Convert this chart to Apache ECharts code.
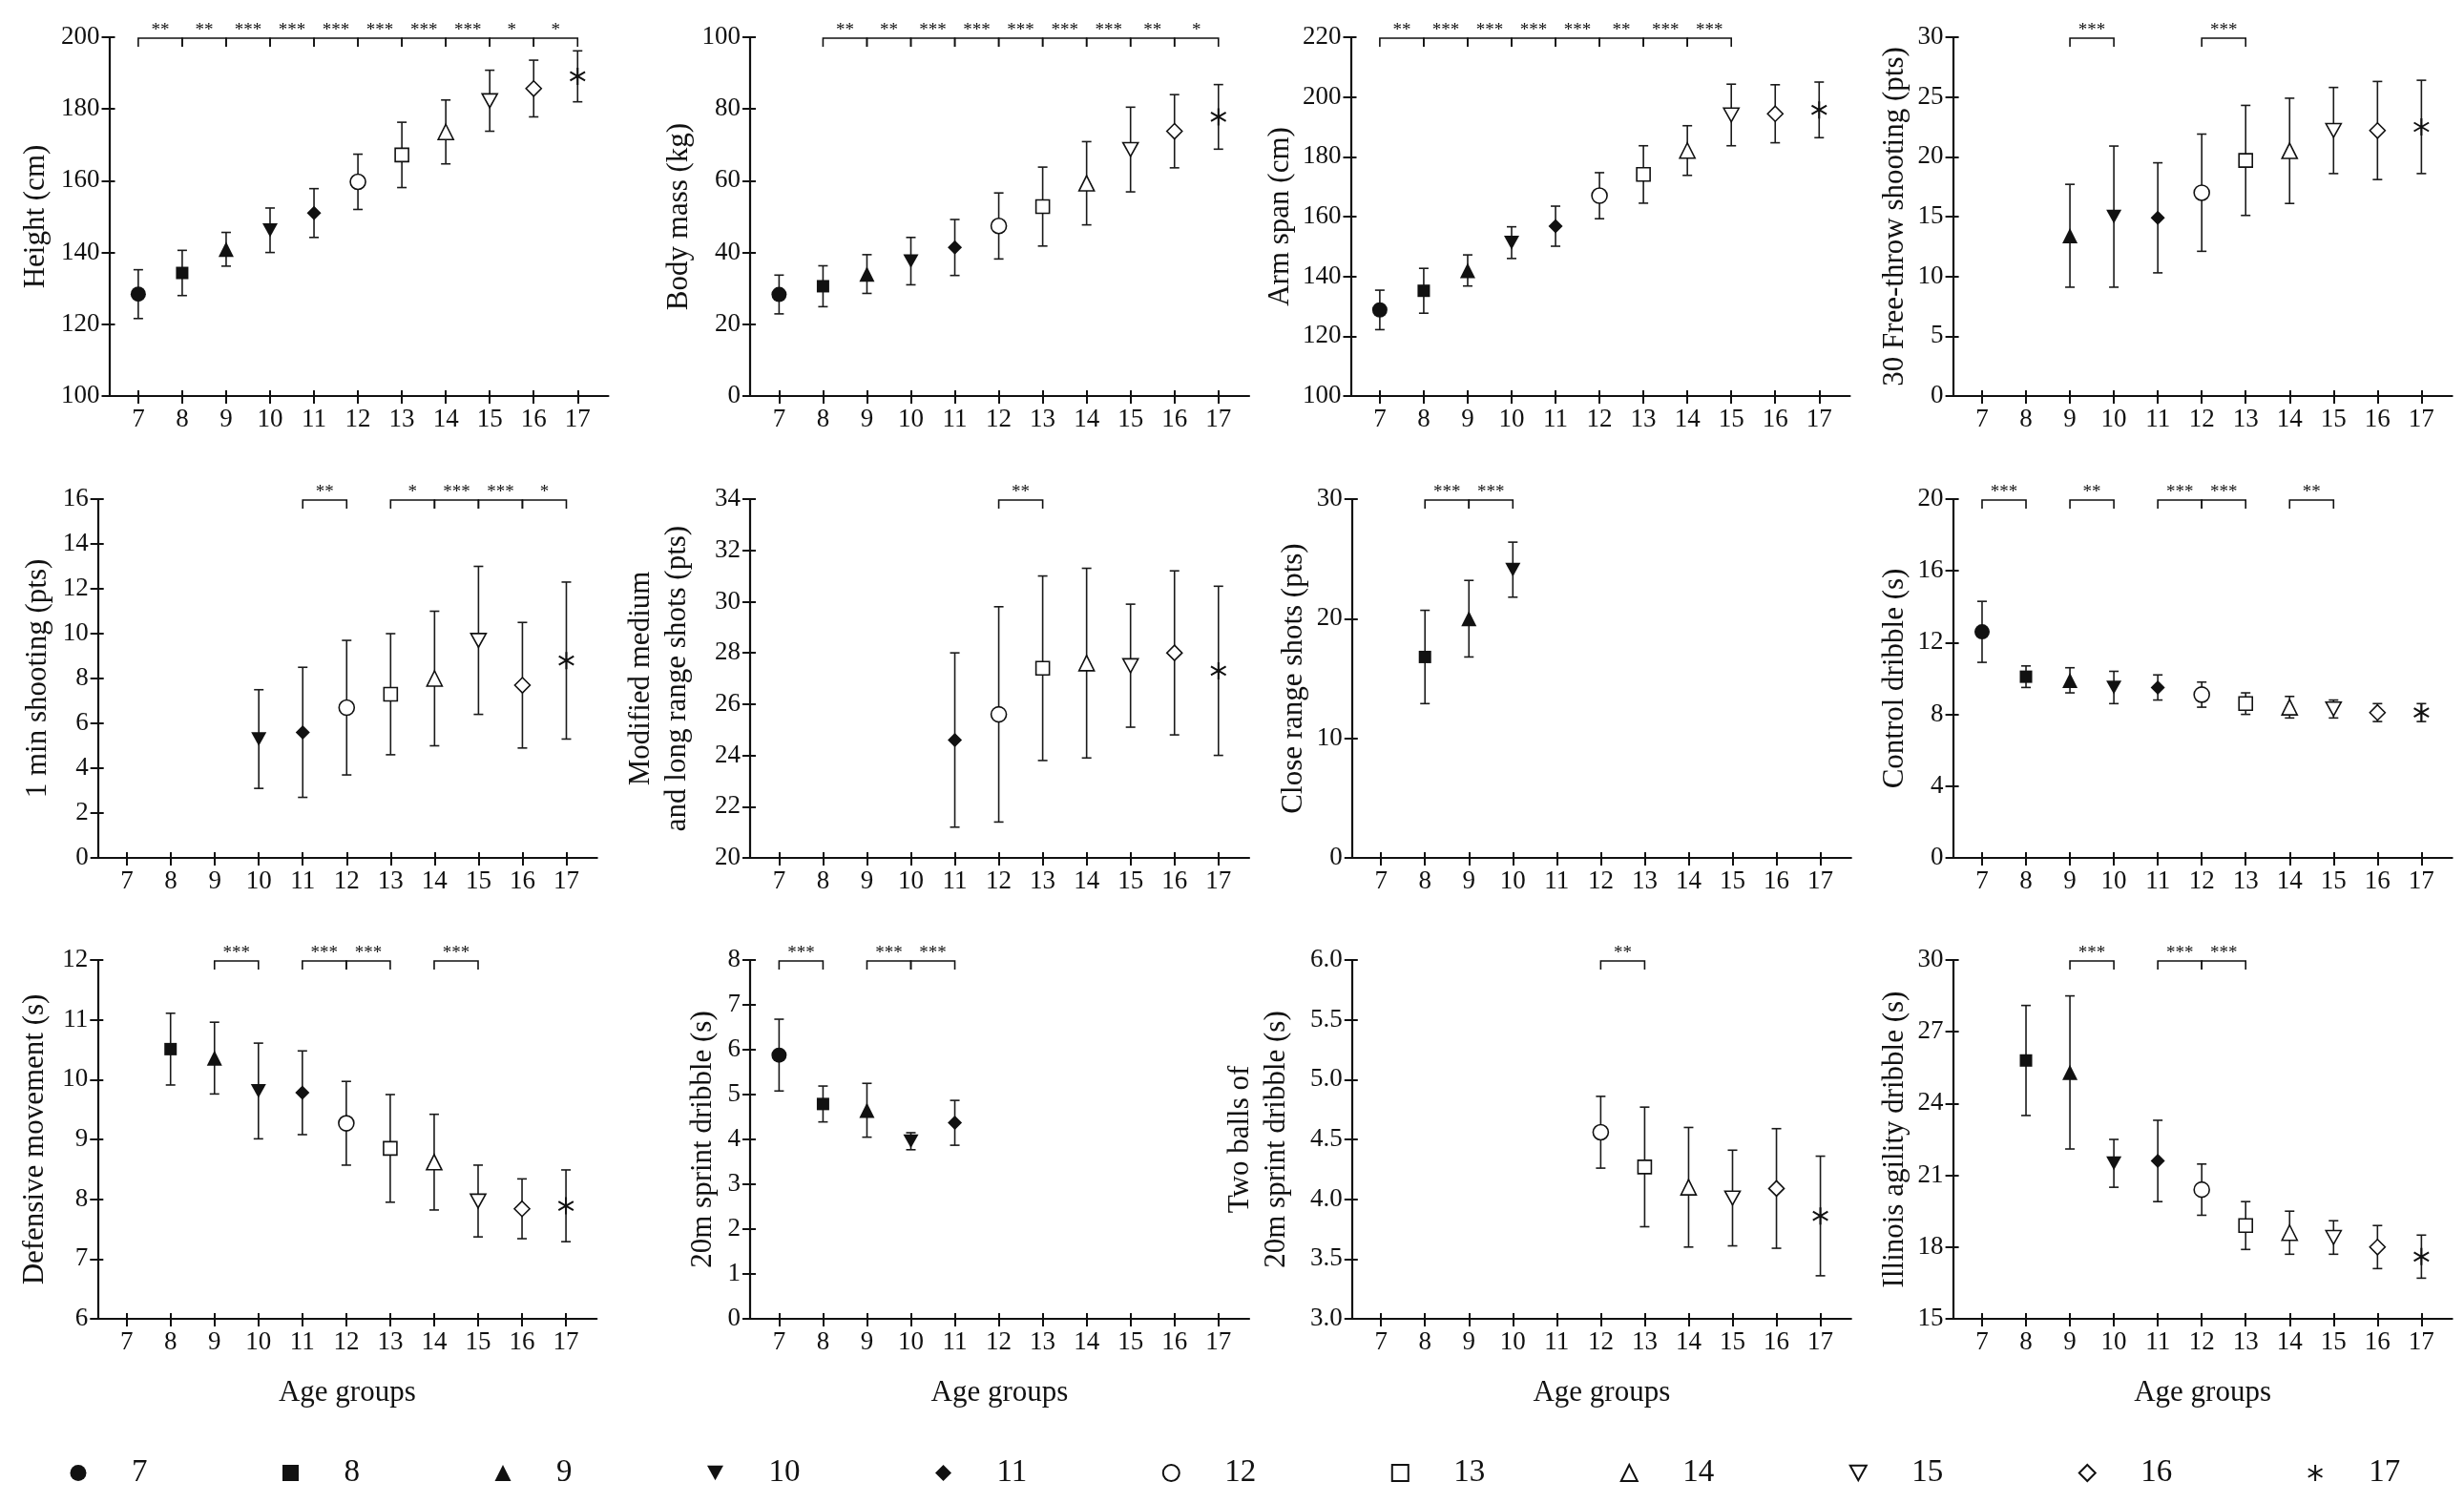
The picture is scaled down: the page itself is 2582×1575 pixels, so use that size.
<!DOCTYPE html>
<html>
<head>
<meta charset="utf-8">
<script src="https://cdn.jsdelivr.net/npm/echarts@6/dist/echarts.min.js"></script>
<style>
  html, body { margin: 0; padding: 0; background: #fff; }
  #main { width: 2582px; height: 1575px; }
</style>
</head>
<body>
<div id="main"></div>
<script>
// age groups (x categories)
const ages = [7, 8, 9, 10, 11, 12, 13, 14, 15, 16, 17];

// means and SDs per age group (null = not tested)
const heightMean = [128.4, 134.3, 140.9, 146.2, 151.0, 159.7, 167.2, 173.6, 182.3, 185.7, 189.1];
const heightSd   = [6.8, 6.3, 4.7, 6.2, 6.8, 7.7, 9.1, 8.9, 8.5, 7.9, 7.1];
const massMean = [28.3, 30.6, 34.0, 37.6, 41.4, 47.4, 52.8, 59.3, 68.7, 73.8, 77.8];
const massSd   = [5.4, 5.7, 5.4, 6.6, 7.8, 9.2, 11.0, 11.6, 11.8, 10.2, 9.0];
const armMean = [128.8, 135.2, 142.0, 151.3, 156.8, 167.0, 174.1, 182.1, 194.0, 194.4, 195.7];
const armSd   = [6.6, 7.5, 5.2, 5.3, 6.7, 7.7, 9.6, 8.3, 10.3, 9.7, 9.3];
const freeMean = [null, null, 13.4, 15.0, 14.9, 17.0, 19.7, 20.5, 22.2, 22.2, 22.5];
const freeSd   = [null, null, 4.3, 5.9, 4.6, 4.9, 4.6, 4.4, 3.6, 4.1, 3.9];
const shootMean = [null, null, null, 5.3, 5.6, 6.7, 7.3, 8.0, 9.7, 7.7, 8.8];
const shootSd   = [null, null, null, 2.2, 2.9, 3.0, 2.7, 3.0, 3.3, 2.8, 3.5];
const longMean = [null, null, null, null, 24.6, 25.6, 27.4, 27.6, 27.5, 28.0, 27.3];
const longSd   = [null, null, null, null, 3.4, 4.2, 3.6, 3.7, 2.4, 3.2, 3.3];
const closeMean = [null, 16.8, 20.0, 24.1, null, null, null, null, null, null, null];
const closeSd   = [null, 3.9, 3.2, 2.3, null, null, null, null, null, null, null];
const controlMean = [12.6, 10.1, 9.9, 9.5, 9.5, 9.1, 8.6, 8.4, 8.3, 8.1, 8.1];
const controlSd   = [1.7, 0.6, 0.7, 0.9, 0.7, 0.7, 0.6, 0.6, 0.5, 0.5, 0.5];
const defMean = [null, 10.51, 10.36, 9.81, 9.78, 9.27, 8.85, 8.62, 7.97, 7.84, 7.89];
const defSd   = [null, 0.6, 0.6, 0.8, 0.7, 0.7, 0.9, 0.8, 0.6, 0.5, 0.6];
const sprintMean = [5.88, 4.79, 4.65, 3.96, 4.37, null, null, null, null, null, null];
const sprintSd   = [0.8, 0.4, 0.6, 0.19, 0.5, null, null, null, null, null, null];
const twoMean = [null, null, null, null, null, 4.56, 4.27, 4.10, 4.01, 4.09, 3.86];
const twoSd   = [null, null, null, null, null, 0.3, 0.5, 0.5, 0.4, 0.5, 0.5];
const illMean = [null, 25.8, 25.3, 21.5, 21.6, 20.4, 18.9, 18.6, 18.4, 18.0, 17.6];
const illSd   = [null, 2.3, 3.2, 1.0, 1.7, 1.07, 1.0, 0.9, 0.7, 0.9, 0.9];

// significance brackets: [from age, to age, stars]
const heightSig = [[7, 8, '**'], [8, 9, '**'], [9, 10, '***'], [10, 11, '***'], [11, 12, '***'], [12, 13, '***'], [13, 14, '***'], [14, 15, '***'], [15, 16, '*'], [16, 17, '*']];
const massSig = [[8, 9, '**'], [9, 10, '**'], [10, 11, '***'], [11, 12, '***'], [12, 13, '***'], [13, 14, '***'], [14, 15, '***'], [15, 16, '**'], [16, 17, '*']];
const armSig = [[7, 8, '**'], [8, 9, '***'], [9, 10, '***'], [10, 11, '***'], [11, 12, '***'], [12, 13, '**'], [13, 14, '***'], [14, 15, '***']];
const freeSig = [[9, 10, '***'], [12, 13, '***']];
const shootSig = [[11, 12, '**'], [13, 14, '*'], [14, 15, '***'], [15, 16, '***'], [16, 17, '*']];
const longSig = [[12, 13, '**']];
const closeSig = [[8, 9, '***'], [9, 10, '***']];
const controlSig = [[7, 8, '***'], [9, 10, '**'], [11, 12, '***'], [12, 13, '***'], [14, 15, '**']];
const defSig = [[9, 10, '***'], [11, 12, '***'], [12, 13, '***'], [14, 15, '***']];
const sprintSig = [[7, 8, '***'], [9, 10, '***'], [10, 11, '***']];
const twoSig = [[12, 13, '**']];
const illSig = [[9, 10, '***'], [11, 12, '***'], [12, 13, '***']];

// y axis titles and ranges [min, max, interval]
const yTitles = ['Height (cm)', 'Body mass (kg)', 'Arm span (cm)', '30 Free-throw shooting (pts)',
  '1 min shooting (pts)', 'Modified medium\nand long range shots (pts)', 'Close range shots (pts)', 'Control dribble (s)',
  'Defensive movement (s)', '20m sprint dribble (s)', 'Two balls of\n20m sprint dribble (s)', 'Illinois agility dribble (s)'];
const yRanges = [[100, 200, 20], [0, 100, 20], [100, 220, 20], [0, 30, 5],
  [0, 16, 2], [20, 34, 2], [0, 30, 10], [0, 20, 4],
  [6, 12, 1], [0, 8, 1], [3, 6, 0.5], [15, 30, 3]];

const means = [heightMean, massMean, armMean, freeMean, shootMean, longMean, closeMean, controlMean, defMean, sprintMean, twoMean, illMean];
const sds = [heightSd, massSd, armSd, freeSd, shootSd, longSd, closeSd, controlSd, defSd, sprintSd, twoSd, illSd];
const sigs = [heightSig, massSig, armSig, freeSig, shootSig, longSig, closeSig, controlSig, defSig, sprintSig, twoSig, illSig];

// layout (pixels)
const gridLeft = [114.5, 786, 1415.5, 2046.6, 102.7, 786, 1416.8, 2046.6, 102.3, 786, 1416.8, 2046.6];
const rowTop = [39, 523, 1006];
const nameGaps = [58, 55, 55, 42, 44, 57, 42, 42, 46, 30, 60, 42];
const plotW = 523, plotH = 376;

const FONT = '"Liberation Serif", "Times New Roman", serif';
const INK = '#111';
const asterisk = 'path://M10,0L10,20M1.34,5L18.66,15M1.34,15L18.66,5';
const triDown = 'path://M0,0L20,0L10,18Z';
const markers = [
  { symbol: 'circle', size: 16, fill: INK, border: 0 },
  { symbol: 'rect', size: 13, fill: INK, border: 0 },
  { symbol: 'triangle', size: 16, fill: INK, border: 0 },
  { symbol: triDown, size: 16, fill: INK, border: 0 },
  { symbol: 'diamond', size: 15, fill: INK, border: 0 },
  { symbol: 'circle', size: 16, fill: '#fff', border: 1.6 },
  { symbol: 'rect', size: 14, fill: '#fff', border: 1.6 },
  { symbol: 'triangle', size: 16, fill: '#fff', border: 1.6 },
  { symbol: triDown, size: 16, fill: '#fff', border: 1.6 },
  { symbol: 'diamond', size: 16, fill: '#fff', border: 1.6 },
  { symbol: asterisk, size: 18, fill: INK, border: 2 }
];

const grids = [], xAxes = [], yAxes = [], series = [];
const lineStyle = { color: INK, width: 2.2 };
const tickStyle = { color: INK, width: 2 };

for (let i = 0; i < 12; i++) {
  const row = Math.floor(i / 4);
  grids.push({ left: gridLeft[i], top: rowTop[row], width: plotW, height: plotH });

  const xBase = { type: 'value', gridIndex: i, min: 6.34, max: 17.7, position: 'bottom', splitLine: { show: false } };
  xAxes.push(Object.assign({}, xBase, {
    axisLine: { onZero: false, lineStyle: lineStyle },
    axisTick: { customValues: ages, length: 8, lineStyle: tickStyle },
    axisLabel: { customValues: ages, margin: 11, fontSize: 27, fontFamily: FONT, color: INK },
    name: row === 2 ? 'Age groups' : '',
    nameLocation: 'middle', nameGap: 62,
    nameTextStyle: { fontSize: 31, fontFamily: FONT, color: INK }
  }));
  xAxes.push(Object.assign({}, xBase, {
    axisLine: { show: false },
    axisTick: { customValues: ages, inside: true, length: 6, lineStyle: tickStyle },
    axisLabel: { show: false }
  }));

  const r = yRanges[i];
  const yBase = { type: 'value', gridIndex: i, min: r[0], max: r[1], interval: r[2], position: 'left', splitLine: { show: false } };
  yAxes.push(Object.assign({}, yBase, {
    axisLine: { onZero: false, lineStyle: lineStyle },
    axisTick: { length: 8, lineStyle: tickStyle },
    axisLabel: { margin: 10, fontSize: 27, fontFamily: FONT, color: INK,
      formatter: r[2] < 1 ? function (v) { return v.toFixed(1); } : null },
    name: yTitles[i], nameLocation: 'middle', nameGap: nameGaps[i],
    nameTextStyle: { fontSize: 31, fontFamily: FONT, color: INK, lineHeight: 38, align: 'center' }
  }));
  yAxes.push(Object.assign({}, yBase, {
    axisLine: { show: false },
    axisTick: { inside: true, length: 6, lineStyle: tickStyle },
    axisLabel: { show: false }
  }));

  const m = means[i], sd = sds[i];
  const barData = [];
  ages.forEach(function (a, k) {
    if (m[k] != null) barData.push([a, m[k] - sd[k], m[k] + sd[k]]);
  });

  // error bars
  series.push({
    type: 'custom', xAxisIndex: 2 * i, yAxisIndex: 2 * i, z: 2, silent: true,
    data: barData, encode: { x: 0, y: [1, 2] },
    renderItem: function (params, api) {
      const x = api.value(0);
      const lo = api.coord([x, api.value(1)]);
      const hi = api.coord([x, api.value(2)]);
      const c = 5;
      const st = { stroke: '#1a1a1a', lineWidth: 1.6 };
      return { type: 'group', children: [
        { type: 'line', shape: { x1: lo[0], y1: lo[1], x2: hi[0], y2: hi[1] }, style: st },
        { type: 'line', shape: { x1: hi[0] - c, y1: hi[1], x2: hi[0] + c, y2: hi[1] }, style: st },
        { type: 'line', shape: { x1: lo[0] - c, y1: lo[1], x2: lo[0] + c, y2: lo[1] }, style: st }
      ] };
    }
  });

  // significance brackets
  const sig = sigs[i];
  series.push({
    type: 'custom', xAxisIndex: 2 * i, yAxisIndex: 2 * i, z: 2, silent: true,
    data: sig.map(function (p) { return [p[0], p[1], r[1]]; }),
    encode: { x: [0, 1], y: 2 },
    renderItem: function (params, api) {
      const p = sig[params.dataIndex];
      const a = api.coord([api.value(0), api.value(2)]);
      const b = api.coord([api.value(1), api.value(2)]);
      const y = a[1] + 1, d = 9;
      return { type: 'group', children: [
        { type: 'polyline', shape: { points: [[a[0], y + d], [a[0], y], [b[0], y], [b[0], y + d]] },
          style: { stroke: INK, lineWidth: 1.6, fill: null } },
        { type: 'text', x: (a[0] + b[0]) / 2, y: y - 8,
          style: { text: p[2], align: 'center', verticalAlign: 'middle', fontSize: 19, fontFamily: FONT, fill: INK } }
      ] };
    }
  });

  // group markers
  ages.forEach(function (a, k) {
    if (m[k] == null) return;
    const s = markers[k];
    series.push({
      type: 'scatter', name: String(a), xAxisIndex: 2 * i, yAxisIndex: 2 * i, z: 3, silent: true,
      symbol: s.symbol, symbolSize: s.size, symbolKeepAspect: true,
      itemStyle: { color: s.fill, borderColor: INK, borderWidth: s.border, opacity: 1 },
      data: [[a, m[k]]]
    });
  });
}

const chart = echarts.init(document.getElementById('main'));
chart.setOption({
  animation: false,
  backgroundColor: '#fff',
  grid: grids,
  xAxis: xAxes,
  yAxis: yAxes,
  legend: {
    data: ages.map(String), left: 73.5, top: 1527, padding: 0,
    itemWidth: 17, itemHeight: 17, itemGap: 141.5, selectedMode: false,
    textStyle: { fontSize: 33, fontFamily: FONT, color: INK, padding: [0, 0, 0, 42.5] }
  },
  series: series
});
</script>
</body>
</html>
